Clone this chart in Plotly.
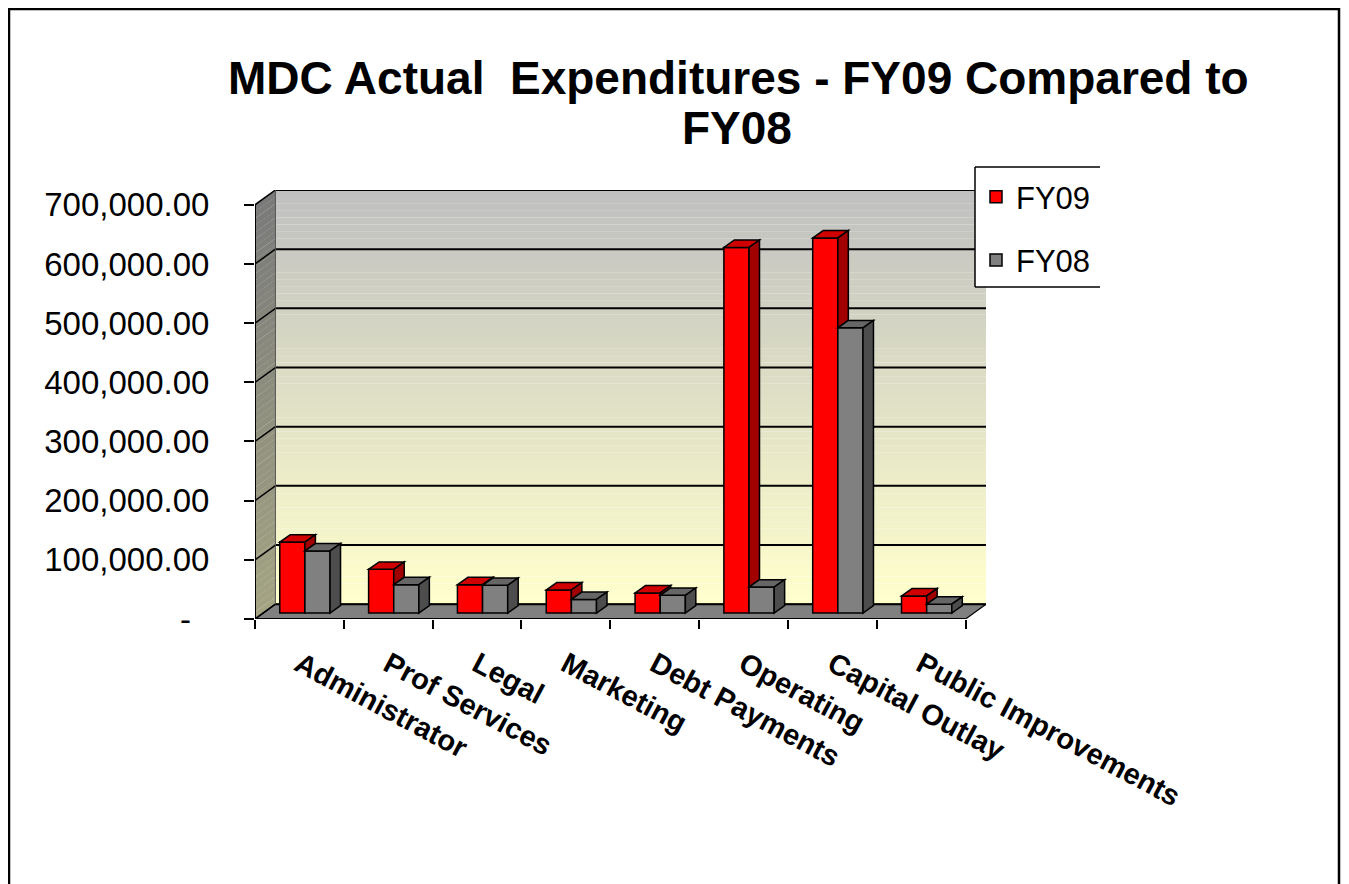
import plotly.graph_objects as go

# ---------------- data ----------------
categories = ["Administrator", "Prof Services", "Legal", "Marketing",
              "Debt Payments", "Operating", "Capital Outlay", "Public Improvements"]
fy09 = [120000, 74000, 48000, 39000, 34000, 618000, 634000, 29000]
fy08 = [105000, 48000, 47000, 23000, 30000, 44000, 482000, 15000]
y_tickvals = [0, 100000, 200000, 300000, 400000, 500000, 600000, 700000]
y_ticktext = ["-\u00a0\u00a0", "100,000.00", "200,000.00", "300,000.00", "400,000.00",
              "500,000.00", "600,000.00", "700,000.00"]
title_line1 = "MDC Actual\u00a0 Expenditures - FY09 Compared to"
title_line2 = "FY08"

# ---------------- geometry / style ----------------
W, H = 1349, 884
OFF = 8  # page body margin
ML, MR, MT, MB = 255 - OFF, 363 + OFF, 190 - OFF, 265 + OFF
PW, PH = W - ML - MR, H - MT - MB
XR = [-0.5, 7.73]
YR = [0, 725000]
DEPTH_X = 0.23      # wall depth in category units
DEPTH_Y = 25000     # wall depth in value units
BAR_W = 0.283
SHIFT = 0.062
BDX = 0.118         # bar depth
BDY = 12500
BASE = 10000

RED, RED_TOP, RED_SIDE = "#FF0000", "#D00000", "#A00000"
GRAY, GRAY_TOP, GRAY_SIDE = "#808080", "#666666", "#4D4D4D"
FONT = "Liberation Sans, Arial, sans-serif"


def xp(px):
    return (px - OFF - ML) / PW


def yp(py):
    return (H - MB - (py - OFF)) / PH


def lerp(c1, c2, t):
    a = [int(c1[i:i + 2], 16) for i in (1, 3, 5)]
    b = [int(c2[i:i + 2], 16) for i in (1, 3, 5)]
    return "#%02x%02x%02x" % tuple(round(a[k] + (b[k] - a[k]) * t) for k in range(3))


def poly(pts):
    return "M" + " L".join(f"{x},{y}" for x, y in pts) + " Z"


shapes = []
n = len(categories)
x_idx = list(range(n))

# back wall gradient
N = 60
wall_x0, wall_x1 = XR[0] + DEPTH_X, XR[1]
for k in range(N):
    y0 = DEPTH_Y + (YR[1] - DEPTH_Y) * k / N
    y1 = DEPTH_Y + (YR[1] - DEPTH_Y) * (k + 1) / N
    c = lerp("#FFFFCC", "#C0C0C0", k / (N - 1))
    shapes.append(dict(type="rect", xref="x", yref="y", x0=wall_x0, x1=wall_x1, y0=y0, y1=y1 + 200,
                       fillcolor=c, line=dict(width=0), layer="below"))
# left wall gradient
top_val = y_tickvals[-1]
for k in range(N):
    y0 = top_val * k / N
    y1 = top_val * (k + 1) / N
    c = lerp("#A3A383", "#7A7A7A", k / (N - 1))
    shapes.append(dict(type="path", xref="x", yref="y",
                       path=poly([(XR[0], y0), (XR[0], y1 + 300), (XR[0] + DEPTH_X, y1 + 300 + DEPTH_Y),
                                  (XR[0] + DEPTH_X, y0 + DEPTH_Y)]),
                       fillcolor=c, line=dict(width=0), layer="below"))
# floor
shapes.append(dict(type="path", xref="x", yref="y",
                   path=poly([(XR[0], 0), (n - 0.5, 0), (n - 0.5 + DEPTH_X, DEPTH_Y), (XR[0] + DEPTH_X, DEPTH_Y)]),
                   fillcolor="#808080", line=dict(color="black", width=1.2), layer="below"))
# gridlines on back wall + wall diagonals
for v in y_tickvals:
    shapes.append(dict(type="line", xref="x", yref="y", x0=XR[0] + DEPTH_X, x1=XR[1],
                       y0=v + DEPTH_Y, y1=v + DEPTH_Y, line=dict(color="black", width=2), layer="below"))
    shapes.append(dict(type="line", xref="x", yref="y", x0=XR[0], x1=XR[0] + DEPTH_X,
                       y0=v, y1=v + DEPTH_Y, line=dict(color="black", width=1.5), layer="below"))
# wall corner
shapes.append(dict(type="line", xref="x", yref="y", x0=XR[0] + DEPTH_X, x1=XR[0] + DEPTH_X,
                   y0=DEPTH_Y, y1=YR[1], line=dict(color="#555555", width=1), layer="below"))
# axis lines
shapes.append(dict(type="line", xref="x", yref="y", x0=XR[0], x1=XR[0], y0=0, y1=top_val,
                   line=dict(color="black", width=2), layer="below"))
shapes.append(dict(type="line", xref="x", yref="y", x0=XR[0], x1=n - 0.5, y0=0, y1=0,
                   line=dict(color="black", width=2), layer="below"))

# 3D faces of bars
edge = dict(color="black", width=1.5)
for i in x_idx:
    r, g = fy09[i], fy08[i]
    rl, rr = i + SHIFT - BAR_W, i + SHIFT
    gl, gr = rr, rr + BAR_W
    # red top
    shapes.append(dict(type="path", xref="x", yref="y", layer="above",
                       path=poly([(rl, BASE + r), (rr, BASE + r), (rr + BDX, BASE + r + BDY), (rl + BDX, BASE + r + BDY)]),
                       fillcolor=RED_TOP, line=edge))
    # red side visible above gray
    if r > g:
        shapes.append(dict(type="path", xref="x", yref="y", layer="above",
                           path=poly([(rr, BASE + g), (rr, BASE + r), (rr + BDX, BASE + r + BDY), (rr + BDX, BASE + g + BDY)]),
                           fillcolor=RED_SIDE, line=edge))
    # gray top
    shapes.append(dict(type="path", xref="x", yref="y", layer="above",
                       path=poly([(gl, BASE + g), (gr, BASE + g), (gr + BDX, BASE + g + BDY), (gl + BDX, BASE + g + BDY)]),
                       fillcolor=GRAY_TOP, line=edge))
    # gray side
    shapes.append(dict(type="path", xref="x", yref="y", layer="above",
                       path=poly([(gr, BASE), (gr, BASE + g), (gr + BDX, BASE + g + BDY), (gr + BDX, BASE + BDY)]),
                       fillcolor=GRAY_SIDE, line=edge))

# legend box (open on the right) and outer frame
lx0, lx1, ly0, ly1 = xp(975), xp(1100), yp(167), yp(287)
shapes.append(dict(type="rect", xref="paper", yref="paper", x0=lx0, x1=lx1, y0=ly1, y1=ly0,
                   fillcolor="white", line=dict(width=0), layer="above"))
for (a, b, c, d) in [(lx0, ly0, lx1, ly0), (lx0, ly0, lx0, ly1), (lx0, ly1, lx1, ly1)]:
    shapes.append(dict(type="line", xref="paper", yref="paper", x0=a, y0=b, x1=c, y1=d,
                       line=dict(color="black", width=1.5), layer="above"))
shapes.append(dict(type="rect", xref="paper", yref="paper", x0=xp(9), x1=xp(1339), y0=yp(9), y1=yp(905),
                   line=dict(color="black", width=2.5), fillcolor="rgba(0,0,0,0)", layer="above"))

fig = go.Figure()
fig.add_trace(go.Bar(x=x_idx, y=fy09, base=BASE, name="FY09", width=BAR_W, offset=SHIFT - BAR_W,
                     marker=dict(color=RED, line=dict(color="black", width=1.5)), legendgroup="a"))
fig.add_trace(go.Bar(x=x_idx, y=fy08, base=BASE, name="FY08", width=BAR_W, offset=SHIFT,
                     marker=dict(color=GRAY, line=dict(color="black", width=1.5)), legendgroup="b"))

fig.update_layout(
    width=W, height=H,
    margin=dict(l=ML, r=MR, t=MT, b=MB, autoexpand=False),
    paper_bgcolor="white", plot_bgcolor="rgba(0,0,0,0)",
    barmode="overlay",
    shapes=shapes,
    showlegend=True,
    legend=dict(x=xp(976), y=yp(170), xanchor="left", yanchor="top",
                bgcolor="rgba(0,0,0,0)", borderwidth=0, tracegroupgap=20,
                font=dict(family=FONT, size=31, color="black")),
    annotations=[
        dict(text=title_line1, xref="paper", yref="paper", x=xp(738), y=yp(78), showarrow=False,
             xanchor="center", yanchor="middle", font=dict(family=FONT, size=46, color="black", weight="bold")),
        dict(text=title_line2, xref="paper", yref="paper", x=xp(737), y=yp(128), showarrow=False,
             xanchor="center", yanchor="middle", font=dict(family=FONT, size=46, color="black", weight="bold")),
    ],
    xaxis=dict(range=XR, tickvals=x_idx, ticktext=categories, tickangle=28, ticks="",
               showgrid=False, zeroline=False, showline=False, automargin=False,
               ticklabelstandoff=22,
               tickfont=dict(family=FONT, size=29, color="black", weight="bold"),
               minor=dict(tickvals=[i - 0.5 for i in range(n + 1)], ticks="outside", ticklen=9,
                          tickcolor="black", tickwidth=2, showgrid=False)),
    yaxis=dict(range=YR, tickvals=y_tickvals, ticktext=y_ticktext, ticks="outside", ticklen=10,
               tickcolor="black", tickwidth=2, showgrid=False, zeroline=False, showline=False,
               automargin=False, ticklabelstandoff=28,
               tickfont=dict(family=FONT, size=33, color="black")),
)

fig.write_html("out.html")
